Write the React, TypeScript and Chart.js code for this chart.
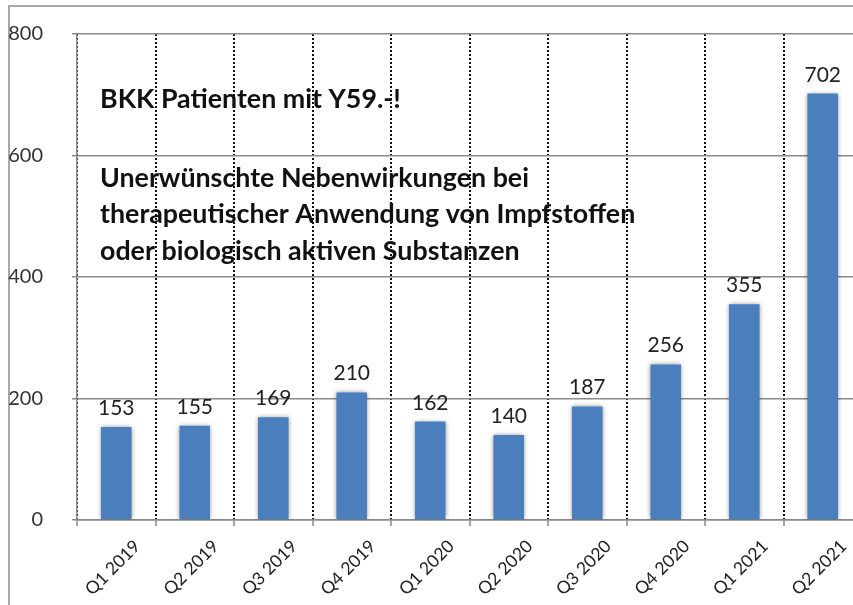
import React, { useEffect, useRef } from "react";
import { Chart, registerables } from "chart.js";

Chart.register(...registerables);

const categories = [
  "Q1 2019", "Q2 2019", "Q3 2019", "Q4 2019", "Q1 2020",
  "Q2 2020", "Q3 2020", "Q4 2020", "Q1 2021", "Q2 2021",
];
const patients = [153, 155, 169, 210, 162, 140, 187, 256, 355, 702];
const yTicks = [0, 200, 400, 600, 800];
const titleLines = [
  "BKK Patienten mit Y59.-!",
  "Unerwünschte Nebenwirkungen bei",
  "therapeutischer Anwendung von Impfstoffen",
  "oder biologisch aktiven Substanzen",
];

const FONT = "Lato, 'Open Sans', 'DejaVu Sans', sans-serif";

const shadowPlugin = {
  id: "barShadow",
  beforeDatasetsDraw(chart: any) {
    const ctx = chart.ctx;
    ctx.save();
    ctx.shadowColor = "rgba(0,0,0,0.45)";
    ctx.shadowBlur = 5;
    ctx.shadowOffsetX = 0;
    ctx.shadowOffsetY = 0;
  },
  afterDatasetsDraw(chart: any) {
    chart.ctx.restore();
  },
};

const labelPlugin = {
  id: "valueLabels",
  afterDraw(chart: any) {
    const ctx = chart.ctx;
    const meta = chart.getDatasetMeta(0);
    ctx.save();
    ctx.fillStyle = "#222";
    ctx.font = `21px ${FONT}`;
    ctx.textAlign = "center";
    ctx.textBaseline = "alphabetic";
    meta.data.forEach((bar: any, i: number) => {
      ctx.fillText(String(patients[i]), bar.x, bar.y - 12);
    });
    ctx.restore();
  },
};

const titlePlugin = {
  id: "insideTitle",
  afterDraw(chart: any) {
    const ctx = chart.ctx;
    const { left, top } = chart.chartArea;
    const baselines = [74, 153, 189, 226];
    ctx.save();
    ctx.fillStyle = "#111";
    ctx.font = `bold 26.8px ${FONT}`;
    ctx.textAlign = "left";
    ctx.textBaseline = "alphabetic";
    titleLines.forEach((t, i) => {
      ctx.fillText(t, left + 23, top + baselines[i]);
    });
    ctx.restore();
  },
};

export default function App() {
  const ref = useRef<HTMLCanvasElement | null>(null);

  useEffect(() => {
    if (!ref.current) return;
    const chart = new Chart(ref.current, {
      type: "bar",
      data: {
        labels: categories,
        datasets: [
          {
            data: patients,
            backgroundColor: "#4a7ebd",
            borderWidth: 0,
            barPercentage: 0.39,
            categoryPercentage: 1,
          },
        ],
      },
      options: {
        responsive: false,
        animation: false,
        layout: { padding: { left: 0, top: 34, right: 8, bottom: 0 } },
        plugins: {
          legend: { display: false },
          tooltip: { enabled: false },
          title: { display: false },
        },
        scales: {
          x: {
            afterFit: (s: any) => {
              s.height = 85;
            },
            grid: {
              offset: true,
              color: "#111",
              lineWidth: 2,
              tickLength: 6,
              tickColor: "#8a8a8a",
              tickWidth: 1.5,
            },
            border: { color: "#8a8a8a", width: 1.5, dash: [2, 2] },
            ticks: {
              autoSkip: false,
              minRotation: 45,
              maxRotation: 45,
              labelOffset: 21,
              padding: 10,
              color: "#222",
              font: { family: FONT, size: 17.5 },
            },
          },
          y: {
            min: 0,
            max: 800,
            afterFit: (s: any) => {
              s.width = 77;
              s.paddingTop = 0;
              s.paddingBottom = 0;
            },
            afterBuildTicks: (s: any) => {
              s.ticks = yTicks.map((v) => ({ value: v }));
            },
            grid: { color: "#8a8a8a", lineWidth: 1.5, tickLength: 5 },
            border: { color: "#8a8a8a", width: 1.5 },
            ticks: {
              padding: 29,
              color: "#333",
              font: { family: FONT, size: 20 },
            },
          },
        },
      },
      plugins: [shadowPlugin, labelPlugin, titlePlugin],
    });
    return () => chart.destroy();
  }, []);

  return (
    <div
      style={{
        position: "absolute",
        left: 0,
        top: 0,
        width: 853,
        height: 605,
        overflow: "hidden",
        background: "#fff",
      }}
    >
      <div
        style={{
          position: "absolute",
          left: 8,
          top: 5,
          right: -10,
          bottom: -10,
          borderTop: "2px solid #a8a8a8",
          borderLeft: "2px solid #a8a8a8",
        }}
      />
      <canvas
        ref={ref}
        width={870}
        height={605}
        style={{ position: "absolute", left: 0, top: 0, width: 870, height: 605 }}
      />
    </div>
  );
}
